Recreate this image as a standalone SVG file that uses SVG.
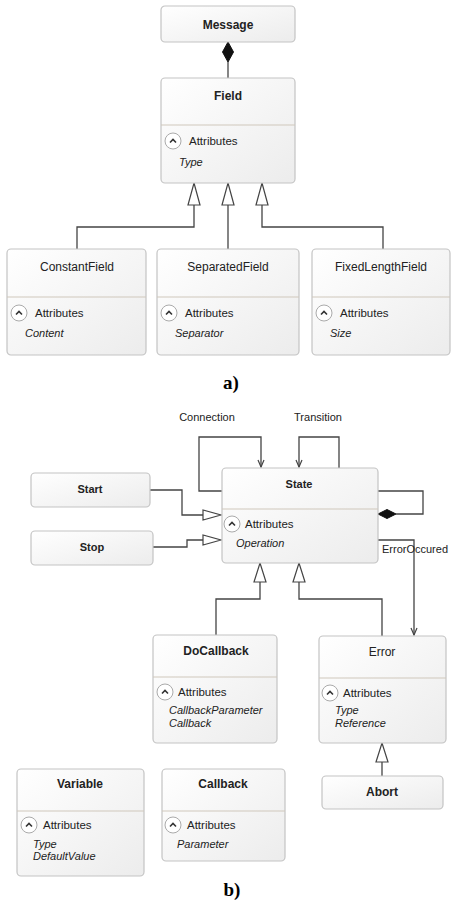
<svg xmlns="http://www.w3.org/2000/svg" width="451" height="903" viewBox="0 0 451 903">
<defs>
<linearGradient id="g" x1="0" y1="0" x2="1" y2="1">
<stop offset="0" stop-color="#ffffff"/>
<stop offset="1" stop-color="#ececec"/>
</linearGradient>
<marker id="open" markerWidth="9" markerHeight="9" refX="8" refY="4.5" orient="auto" markerUnits="userSpaceOnUse" viewBox="0 0 9 9">
<path d="M1,1.5 L8,4.5 L1,7.5" fill="none" stroke="#444" stroke-width="1.2"/>
</marker>
<g id="chev"><circle cx="0" cy="0" r="8" fill="#fff" stroke="#aaa" stroke-width="1"/><path d="M-3,1.5 L0,-1.5 L3,1.5" fill="none" stroke="#333" stroke-width="1.6"/></g>
</defs>
<style>
.box{fill:url(#g);stroke:#c4c4c4;stroke-width:1.2}
.sep{stroke:#cfc8bc;stroke-width:1.2}
.t{font-family:"Liberation Sans",Arial,sans-serif;font-size:12px;fill:#222;text-anchor:middle}
.tb{font-weight:bold}
.a{font-family:"Liberation Sans",Arial,sans-serif;font-size:11.5px;fill:#222}
.i{font-family:"Liberation Sans",Arial,sans-serif;font-size:11px;font-style:italic;fill:#222}
.lbl{font-family:"Liberation Sans",Arial,sans-serif;font-size:11px;fill:#222}
.cap{font-family:"Liberation Serif","Times New Roman",serif;font-size:19px;font-weight:bold;fill:#000;text-anchor:middle}
.ln{fill:none;stroke:#444;stroke-width:1.3}
.tri{fill:#fff;stroke:#444;stroke-width:1.2}
.dia{fill:#111;stroke:#111;stroke-width:1}
</style>
<rect width="451" height="903" fill="#fff"/>

<g id="connectors">
<path class="ln" d="M228,62 V78"/>
<path class="dia" d="M228,42 L233.5,52 L228,62 L222.5,52 Z"/>
<path class="ln" d="M194,205 V227 H77 V249"/>
<path class="ln" d="M228,205 V249"/>
<path class="ln" d="M262,205 V227 H383 V249"/>
<path class="tri" d="M194,183 L200,205 L188,205 Z"/>
<path class="tri" d="M228,183 L234,205 L222,205 Z"/>
<path class="tri" d="M262,183 L268,205 L256,205 Z"/>

<path class="ln" d="M222,491 H199 V437 H261 V467" marker-end="url(#open)"/>
<path class="ln" d="M339,468 V437 H299 V467" marker-end="url(#open)"/>
<path class="ln" d="M378,491 H423 V514 H396"/>
<path class="dia" d="M378,514 L387,509.5 L396,514 L387,518.5 Z"/>
<path class="ln" d="M150,490 H182 V515 H203"/>
<path class="tri" d="M221,515 L203,520 L203,510 Z"/>
<path class="ln" d="M153,547 H187 V540 H203"/>
<path class="tri" d="M221,540 L203,545 L203,535 Z"/>
<path class="ln" d="M260,582 V599 H216 V635"/>
<path class="ln" d="M299,582 V599 H382 V636"/>
<path class="tri" d="M260,563 L266,582 L254,582 Z"/>
<path class="tri" d="M299,563 L305,582 L293,582 Z"/>
<path class="ln" d="M378,540 H414 V635" marker-end="url(#open)"/>
<path class="ln" d="M382,762 V776"/>
<path class="tri" d="M382,743 L388,762 L376,762 Z"/>
<text class="lbl" x="207" y="421" text-anchor="middle">Connection</text>
<text class="lbl" x="318" y="421" text-anchor="middle">Transition</text>
<text class="lbl" x="382" y="553">ErrorOccured</text>
</g>

<g id="Message">
<rect class="box" x="161" y="6" width="134" height="36" rx="4"/>
<text class="t tb" x="228" y="29">Message</text>
</g>
<g id="Field">
<rect class="box" x="161" y="78" width="134" height="105" rx="4"/>
<line class="sep" x1="161" y1="125" x2="295" y2="125"/>
<text class="t tb" x="228" y="100">Field</text>
<use href="#chev" x="173" y="141"/>
<text class="a" x="189" y="145">Attributes</text>
<text class="i" x="179" y="166">Type</text>
</g>
<g id="ConstantField">
<rect class="box" x="7" y="249" width="139" height="106" rx="4"/>
<line class="sep" x1="7" y1="297" x2="146" y2="297"/>
<text class="t" x="77" y="271">ConstantField</text>
<use href="#chev" x="19" y="313"/>
<text class="a" x="35" y="317">Attributes</text>
<text class="i" x="25" y="337">Content</text>
</g>
<g id="SeparatedField">
<rect class="box" x="157" y="249" width="142" height="106" rx="4"/>
<line class="sep" x1="157" y1="297" x2="299" y2="297"/>
<text class="t" x="228" y="271">SeparatedField</text>
<use href="#chev" x="169" y="313"/>
<text class="a" x="185" y="317">Attributes</text>
<text class="i" x="175" y="337">Separator</text>
</g>
<g id="FixedLengthField">
<rect class="box" x="312" y="249" width="138" height="106" rx="4"/>
<line class="sep" x1="312" y1="297" x2="450" y2="297"/>
<text class="t" x="381" y="271">FixedLengthField</text>
<use href="#chev" x="324" y="313"/>
<text class="a" x="340" y="317">Attributes</text>
<text class="i" x="330" y="337">Size</text>
</g>
<text class="cap" x="231" y="389">a)</text>

<g id="State">
<rect class="box" x="222" y="468" width="156" height="95" rx="4"/>
<line class="sep" x1="222" y1="509" x2="378" y2="509"/>
<text class="t tb" x="299" y="488" style="font-size:11px">State</text>
<use href="#chev" x="232" y="524"/>
<text class="a" x="245" y="528">Attributes</text>
<text class="i" x="236" y="547">Operation</text>
</g>
<g id="Start">
<rect class="box" x="31" y="473" width="119" height="34" rx="4"/>
<text class="t tb" x="90" y="493" style="font-size:11px">Start</text>
</g>
<g id="Stop">
<rect class="box" x="31" y="531" width="122" height="34" rx="4"/>
<text class="t tb" x="92" y="551" style="font-size:11px">Stop</text>
</g>
<g id="DoCallback">
<rect class="box" x="153" y="635" width="124" height="108" rx="4"/>
<line class="sep" x1="153" y1="677" x2="277" y2="677"/>
<text class="t tb" x="216" y="655">DoCallback</text>
<use href="#chev" x="165" y="692"/>
<text class="a" x="178" y="696">Attributes</text>
<text class="i" x="169" y="714">CallbackParameter</text>
<text class="i" x="169" y="727">Callback</text>
</g>
<g id="Error">
<rect class="box" x="319" y="636" width="127" height="107" rx="4"/>
<line class="sep" x1="319" y1="678" x2="446" y2="678"/>
<text class="t" x="382" y="656">Error</text>
<use href="#chev" x="330" y="693"/>
<text class="a" x="343" y="697">Attributes</text>
<text class="i" x="335" y="714">Type</text>
<text class="i" x="335" y="727">Reference</text>
</g>
<g id="Abort">
<rect class="box" x="322" y="776" width="121" height="33" rx="4"/>
<text class="t tb" x="382" y="796">Abort</text>
</g>
<g id="Variable">
<rect class="box" x="17" y="769" width="127" height="107" rx="4"/>
<line class="sep" x1="17" y1="811" x2="144" y2="811"/>
<text class="t tb" x="80" y="788">Variable</text>
<use href="#chev" x="29" y="825"/>
<text class="a" x="43" y="829">Attributes</text>
<text class="i" x="33" y="848">Type</text>
<text class="i" x="33" y="860">DefaultValue</text>
</g>
<g id="Callback">
<rect class="box" x="162" y="769" width="123" height="92" rx="4"/>
<line class="sep" x1="162" y1="811" x2="285" y2="811"/>
<text class="t tb" x="223" y="788">Callback</text>
<use href="#chev" x="173" y="825"/>
<text class="a" x="187" y="829">Attributes</text>
<text class="i" x="177" y="848">Parameter</text>
</g>
<text class="cap" x="232" y="896">b)</text>
</svg>
